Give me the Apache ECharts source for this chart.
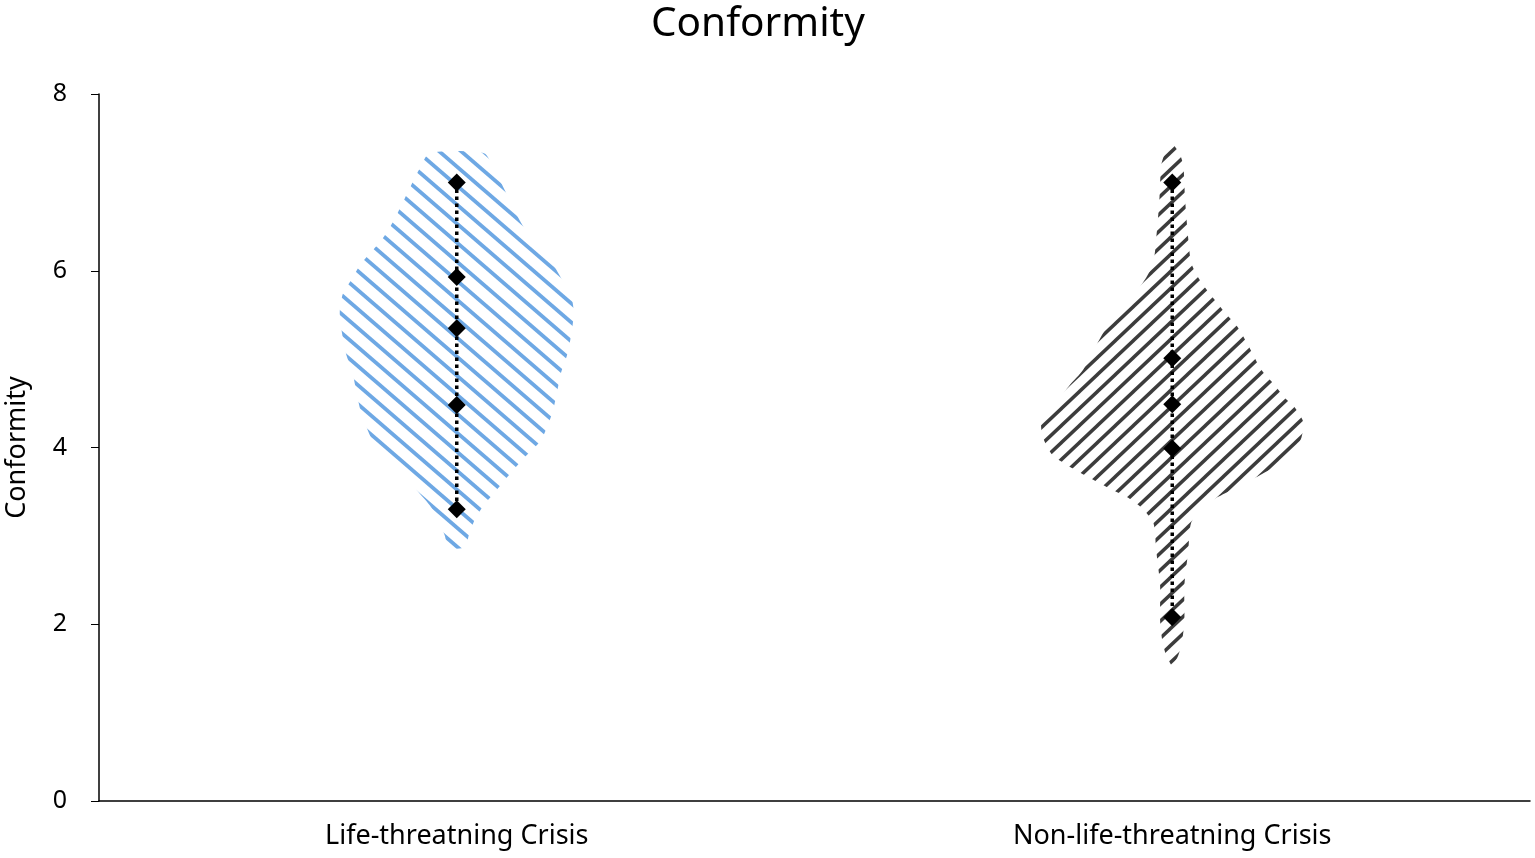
<!DOCTYPE html>
<html><head><meta charset="utf-8">
<script src="https://cdn.jsdelivr.net/npm/echarts@6/dist/echarts.min.js"></script>
<style>html,body{margin:0;padding:0;background:#fff}#c{width:1535px;height:858px}</style>
</head><body><div id="c"></div>
<script>
// ---- data ----
const categories = ['Life-threatning Crisis', 'Non-life-threatning Crisis'];
const yTickValues = [0, 2, 4, 6, 8];

// violin outline: value (descending) and relative half-width (1 = half the category band)
const lifeValues   = [7.33, 7.16, 7.03, 6.82, 6.57, 6.35, 6.07, 5.90, 5.73, 5.53, 5.33, 5.07, 4.84, 4.62, 4.42, 4.28, 4.08, 3.89, 3.66, 3.52, 3.35, 3.18, 3.01, 2.87];
const lifeDensity  = [0.076,0.103,0.120,0.145,0.176,0.210,0.269,0.294,0.319,0.327,0.322,0.310,0.291,0.280,0.269,0.257,0.235,0.190,0.140,0.112,0.076,0.050,0.034,0.022];

const nonLifeValues  = [7.45, 7.31, 7.19, 6.80, 6.35, 6.09, 5.92, 5.76, 5.65, 5.51, 5.35, 5.15, 4.88, 4.70, 4.57, 4.46, 4.29, 4.11, 3.92, 3.80, 3.69, 3.54, 3.43, 3.32, 3.15, 2.84, 2.44, 2.05, 1.82, 1.65, 1.52];
const nonLifeDensity = [0.000,0.022,0.031,0.036,0.045,0.053,0.073,0.101,0.123,0.151,0.185,0.213,0.249,0.288,0.313,0.341,0.366,0.361,0.336,0.294,0.246,0.176,0.123,0.087,0.053,0.045,0.034,0.034,0.028,0.017,0.000];

// markers: max, upper, median, lower, min
const lifeMarkers    = [7.00, 5.93, 5.35, 4.48, 3.30];
const nonLifeMarkers = [7.00, 5.01, 4.49, 3.99, 2.08];

// ---- styling helpers ----
function hatch(color, p, q, lw, dir) {
  const c = document.createElement('canvas');
  c.width = p; c.height = q;
  const g = c.getContext('2d');
  g.strokeStyle = color; g.lineWidth = lw;
  for (let k = -2; k <= 2; k++) {
    g.beginPath();
    if (dir > 0) { g.moveTo(k * p - p, -q); g.lineTo(k * p + 2 * p, 2 * q); }
    else { g.moveTo(k * p + p, -q); g.lineTo(k * p - 2 * p, 2 * q); }
    g.stroke();
  }
  return c;
}
const patterns = [
  { image: hatch('#6ea8e4', 22, 19, 3.8, 1), repeat: 'repeat' },
  { image: hatch('#3c3c3c', 18, 17, 3.5, -1), repeat: 'repeat' }
];
const violins = [
  { values: lifeValues, density: lifeDensity, markers: lifeMarkers },
  { values: nonLifeValues, density: nonLifeDensity, markers: nonLifeMarkers }
];

const chart = echarts.init(document.getElementById('c'));
const option = {
  animation: false,
  backgroundColor: '#fff',
  title: {
    text: 'Conformity', left: 646, top: -1,
    textStyle: { fontFamily: 'Noto Sans', fontWeight: 'normal', fontSize: 40.5, color: '#000' }
  },
  grid: { left: 99, right: 5, top: 94, bottom: 57, outerBoundsMode: 'none', containLabel: false },
  xAxis: {
    type: 'category', data: categories, boundaryGap: true,
    axisLine: { lineStyle: { color: '#000', width: 1.5 } },
    axisTick: { alignWithLabel: true, length: 8, lineStyle: { color: '#000', width: 1 } },
    axisLabel: { color: '#000', fontSize: 27, fontFamily: 'Noto Sans', margin: 22 }
  },
  yAxis: {
    type: 'value', min: 0, max: 8, interval: 2,
    name: 'Conformity', nameLocation: 'middle', nameGap: 68,
    nameTextStyle: { color: '#000', fontSize: 27, fontFamily: 'Noto Sans' },
    axisLine: { show: true, lineStyle: { color: '#000', width: 1.5 } },
    axisTick: { show: true, length: 8, lineStyle: { color: '#000', width: 1 } },
    axisLabel: { color: '#000', fontSize: 25, fontFamily: 'Noto Sans', margin: 32,
      formatter: v => yTickValues.includes(v) ? String(v) : '' },
    splitLine: { show: false }
  },
  series: [
    {
      type: 'custom',
      data: [[0], [1]],
      encode: { x: 0 },
      renderItem: function (params, api) {
        const idx = api.value(0);
        const v = violins[idx];
        const band = api.coord([1, 0])[0] - api.coord([0, 0])[0];
        const half = band / 2;
        const cx = api.coord([idx, 0])[0];
        const right = v.values.map((val, i) => [cx + v.density[i] * half, api.coord([idx, val])[1]]);
        const left = v.values.map((val, i) => [cx - v.density[i] * half, api.coord([idx, val])[1]]).reverse();
        const top = api.coord([idx, Math.max.apply(null, v.markers)])[1];
        const bot = api.coord([idx, Math.min.apply(null, v.markers)])[1];
        return {
          type: 'group',
          children: [
            { type: 'polygon', shape: { points: right.concat(left), smooth: 0.25 }, style: { fill: patterns[idx], stroke: null } },
            { type: 'line', shape: { x1: cx, y1: top, x2: cx, y2: bot }, style: { stroke: '#000', lineWidth: 3.5, lineDash: [3.5, 3.5] } }
          ]
        };
      },
      z: 2
    },
    {
      type: 'scatter', symbol: 'diamond', symbolSize: 18,
      itemStyle: { color: '#000', opacity: 1 },
      data: lifeMarkers.map(v => [0, v]).concat(nonLifeMarkers.map(v => [1, v])),
      z: 5
    }
  ]
};
chart.setOption(option);
</script>
</body></html>
